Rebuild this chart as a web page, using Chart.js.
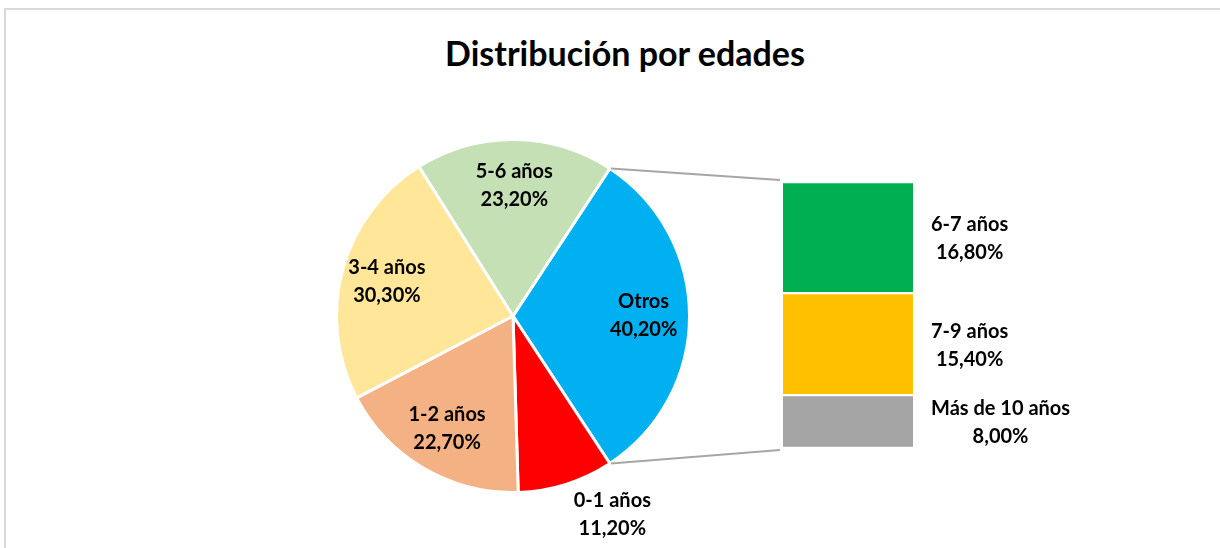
<!DOCTYPE html>
<html>
<head>
<meta charset="utf-8">
<script src="https://cdn.jsdelivr.net/npm/chart.js@4.4.1/dist/chart.umd.min.js"></script>
<style>
  html, body { margin: 0; padding: 0; background: #fff; overflow: hidden; }
  #wrap { position: relative; width: 1220px; height: 548px; }
  #frame { position: absolute; left: 4px; top: 8px; width: 1300px; height: 700px; border: 2px solid #d9d9d9; box-sizing: border-box; }
  #title { position: absolute; left: 0; top: 36px; width: 1250px; text-align: center; font: bold 34px/34px Lato, sans-serif; color: #000; }
  canvas { position: absolute; left: 0; top: 0; }
</style>
</head>
<body>
<div id="wrap">
  <div id="frame"></div>
  <div id="title">Distribución por edades</div>
  <canvas id="pieChart" width="1220" height="548"></canvas>
  <canvas id="barChart" width="1220" height="548"></canvas>
</div>
<script>
// Data
const pieLabels = ['Otros', '0-1 años', '1-2 años', '3-4 años', '5-6 años'];
const pieValues = [40.2, 11.2, 22.7, 30.3, 23.2];
const pieColors = ['#00B0F0', '#FF0000', '#F4B183', '#FFE699', '#C5E0B4'];

// breakdown of "Otros", bottom to top
const barLabels = ['Más de 10 años', '7-9 años', '6-7 años'];
const barValues = [8.0, 15.4, 16.8];
const barColors = ['#A5A5A5', '#FFC000', '#00B050'];

const LABEL_FONT = 'bold 20px Lato, sans-serif';
const LINE_H = 28;

function pct(v) {
  return v.toFixed(2).replace('.', ',') + '%';
}

function drawBlock(ctx, lines, cx, cy) {
  ctx.save();
  ctx.font = LABEL_FONT;
  ctx.fillStyle = '#000';
  ctx.textAlign = 'center';
  ctx.textBaseline = 'middle';
  const top = cy - (lines.length - 1) * LINE_H / 2;
  lines.forEach((t, i) => ctx.fillText(t, cx, top + i * LINE_H));
  ctx.restore();
}

function blockWidth(ctx, lines) {
  ctx.save();
  ctx.font = LABEL_FONT;
  const w = Math.max(...lines.map(t => ctx.measureText(t).width));
  ctx.restore();
  return w;
}

const pieTotal = pieValues.reduce((a, b) => a + b, 0);
// "Otros" slice centred on the right side, like Excel's pie-of-bar
const rotation = 90 - (pieValues[0] / pieTotal) * 180;

const pieLabelPlugin = {
  id: 'pieLabels',
  afterDatasetsDraw(chart) {
    const ctx = chart.ctx;
    const meta = chart.getDatasetMeta(0);
    meta.data.forEach((arc, i) => {
      const mid = (arc.startAngle + arc.endAngle) / 2;
      const span = arc.endAngle - arc.startAngle;
      const lines = [pieLabels[i], pct(pieValues[i])];
      if (span < 0.7) {
        // small slice: label outside
        const px = arc.x + Math.cos(mid) * arc.outerRadius * 1.05;
        const py = arc.y + Math.sin(mid) * arc.outerRadius * 1.05;
        const w = blockWidth(ctx, lines);
        drawBlock(ctx, lines, px + 5 + w / 2, py + 8 + LINE_H / 2);
      } else {
        const r = arc.outerRadius * 0.74;
        drawBlock(ctx, lines, arc.x + Math.cos(mid) * r, arc.y + Math.sin(mid) * r);
      }
    });
  }
};

const pieChart = new Chart(document.getElementById('pieChart'), {
  type: 'pie',
  data: {
    labels: pieLabels,
    datasets: [{
      data: pieValues,
      backgroundColor: pieColors,
      borderColor: '#fff',
      borderWidth: 3
    }]
  },
  options: {
    responsive: false,
    animation: false,
    rotation: rotation,
    layout: { padding: { left: 335, right: 529, top: 138, bottom: 54 } },
    plugins: {
      legend: { display: false },
      tooltip: { enabled: false }
    }
  },
  plugins: [pieLabelPlugin]
});

const barExtras = {
  id: 'barExtras',
  afterDatasetsDraw(chart) {
    const ctx = chart.ctx;
    const metas = chart.data.datasets.map((d, i) => chart.getDatasetMeta(i));
    const topBar = metas[metas.length - 1].data[0];
    const botBar = metas[0].data[0];
    const left = topBar.x - topBar.width / 2;
    const right = topBar.x + topBar.width / 2;

    // connector lines from the "Otros" slice to the bar
    const arc = pieChart.getDatasetMeta(0).data[0];
    const R = arc.outerRadius;
    ctx.save();
    ctx.strokeStyle = '#A6A6A6';
    ctx.lineWidth = 2;
    ctx.beginPath();
    ctx.moveTo(arc.x + Math.cos(arc.startAngle) * R + 1, arc.y + Math.sin(arc.startAngle) * R);
    ctx.lineTo(left - 3, topBar.y - 2);
    ctx.moveTo(arc.x + Math.cos(arc.endAngle) * R + 1, arc.y + Math.sin(arc.endAngle) * R);
    ctx.lineTo(left - 3, botBar.base + 2);
    ctx.stroke();
    ctx.restore();

    // labels right of each segment
    metas.forEach((meta, i) => {
      const el = meta.data[0];
      const lines = [barLabels[i], pct(barValues[i])];
      const w = blockWidth(ctx, lines);
      drawBlock(ctx, lines, right + 18 + w / 2, (el.y + el.base) / 2 + 1);
    });
  }
};

new Chart(document.getElementById('barChart'), {
  type: 'bar',
  data: {
    labels: ['Otros'],
    datasets: barLabels.map((name, i) => ({
      label: name,
      data: [barValues[i]],
      backgroundColor: barColors[i],
      borderColor: '#fff',
      borderWidth: { top: 1.5, bottom: 1.5, left: 0, right: 0 },
      borderSkipped: false,
      categoryPercentage: 1,
      barPercentage: 1
    }))
  },
  options: {
    responsive: false,
    animation: false,
    layout: { padding: { left: 783, right: 307, top: 182, bottom: 100 } },
    scales: {
      x: { display: false, stacked: true },
      y: { display: false, stacked: true, min: 0, max: barValues.reduce((a, b) => a + b, 0) }
    },
    plugins: {
      legend: { display: false },
      tooltip: { enabled: false }
    }
  },
  plugins: [barExtras]
});
</script>
</body>
</html>
